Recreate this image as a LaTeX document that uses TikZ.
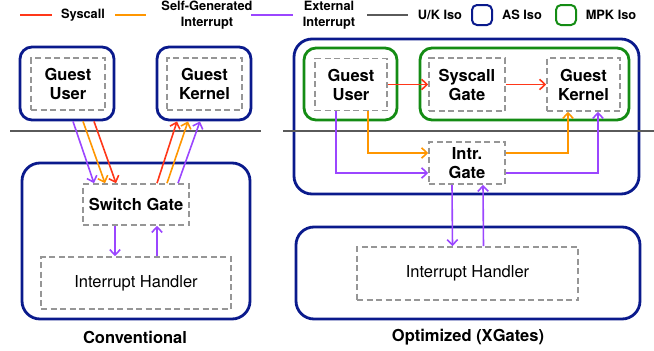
\documentclass[tikz,border=0pt]{standalone}
\usepackage{fontspec}
\setmainfont{TeX Gyre Heros}
\usetikzlibrary{arrows.meta}
\definecolor{asblue}{RGB}{10,26,140}
\definecolor{mpkgreen}{RGB}{20,140,20}
\definecolor{sysred}{RGB}{255,55,25}
\definecolor{selforange}{RGB}{255,150,0}
\definecolor{extpurple}{RGB}{155,70,255}
\definecolor{dashgray}{RGB}{150,150,150}
\definecolor{isogray}{RGB}{90,90,90}
\tikzset{
  x=1pt, y=-1pt,
  asbox/.style={draw=asblue, line width=2.8pt, rounded corners=12pt, inner sep=0pt},
  asbig/.style={draw=asblue, line width=2.8pt, rounded corners=18pt, inner sep=0pt},
  mpkbox/.style={draw=mpkgreen, line width=2.8pt, rounded corners=12pt, inner sep=0pt},
  dbox/.style={draw=dashgray, line width=1.6pt, dash pattern=on 6pt off 3.5pt, inner sep=0pt, align=center,
    font=\fontsize{16.5}{19}\selectfont\bfseries},
  dboxreg/.style={dbox, font=\fontsize{16.5}{19}\selectfont},
  arr/.style={line width=1.6pt, -{Straight Barb[length=5.5pt,width=10.5pt]}},
  sysarr/.style={arr, draw=sysred},
  selfarr/.style={arr, draw=selforange},
  extarr/.style={arr, draw=extpurple},
  isoline/.style={draw=isogray, line width=1.5pt},
  legtext/.style={font=\fontsize{12.8}{15.5}\selectfont\bfseries, align=center, inner sep=0pt},
  legline/.style={line width=2pt},
  caption/.style={font=\fontsize{16.5}{19}\selectfont\bfseries, inner sep=0pt},
}
\begin{document}
\begin{tikzpicture}
\useasboundingbox (0,0) rectangle (654,351);

% legend
\coordinate (r1) at (20,15); \coordinate (r2) at (52,15);
\draw[legline, sysred] (r1) -- (r2);
\node[legtext] (lsys) at (83,15) {Syscall};
\coordinate (o1) at (115,15); \coordinate (o2) at (146,15);
\draw[legline, selforange] (o1) -- (o2);
\node[legtext] (lself) at (207,15) {Self-Generated\\Interrupt};
\coordinate (p1) at (251,15); \coordinate (p2) at (293,15);
\draw[legline, extpurple] (p1) -- (p2);
\node[legtext] (lext) at (329,15) {External\\Interrupt};
\coordinate (g1) at (367,15); \coordinate (g2) at (408,15);
\draw[legline, isogray] (g1) -- (g2);
\node[legtext] (luk) at (440,15) {U/K Iso};
\node[draw=asblue, line width=2pt, rounded corners=5pt, minimum size=20pt, inner sep=0pt] (lasq) at (482,15) {};
\node[legtext] (las) at (522,15) {AS Iso};
\node[draw=mpkgreen, line width=2pt, rounded corners=5pt, minimum size=20pt, inner sep=0pt] (lmpq) at (566,15) {};
\node[legtext] (lmpk) at (611,15) {MPK Iso};

% conventional design
\node[asbox, minimum width=94pt, minimum height=73pt] (cuo) at (67,83.5) {};
\node[dbox, minimum width=74pt, minimum height=52pt] (cu) at (68,84) {Guest\\User};
\node[asbox, minimum width=94pt, minimum height=73pt] (cko) at (204,83.5) {};
\node[dbox, minimum width=75pt, minimum height=52pt] (ck) at (204.5,84) {Guest\\Kernel};
\node[asbig, minimum width=228pt, minimum height=156pt] (cho) at (136,241) {};
\node[dbox, minimum width=106pt, minimum height=41pt] (csg) at (136,204.5) {Switch Gate};
\node[dboxreg, minimum width=190pt, minimum height=52pt] (cih) at (136,283) {Interrupt Handler};
\node[caption] (ccap) at (135,337) {Conventional};

\coordinate (cl1) at (10,131); \coordinate (cl2) at (261,131);
\draw[isoline] (cl1) -- (cl2);

\draw[extarr]  ([xshift=6pt]cuo.south)  -- ([xshift=-42pt]csg.north);
\draw[selfarr] ([xshift=16pt]cuo.south) -- ([xshift=-31pt]csg.north);
\draw[sysarr]  ([xshift=27pt]cuo.south) -- ([xshift=-20pt]csg.north);
\draw[sysarr]  ([xshift=21pt]csg.north) -- ([xshift=-27pt]cko.south);
\draw[selfarr] ([xshift=31pt]csg.north) -- ([xshift=-16pt]cko.south);
\draw[extarr]  ([xshift=42pt]csg.north) -- ([xshift=-4pt]cko.south);
\draw[extarr]  ([xshift=-21pt]csg.south) -- ([xshift=-21pt]cih.north);
\draw[extarr]  ([xshift=21pt]cih.north) -- ([xshift=21pt]csg.south);

% optimized design
\node[asbig, minimum width=345pt, minimum height=155pt] (oas) at (466.5,116.5) {};
\node[mpkbox, minimum width=93pt, minimum height=72pt] (ouo) at (350.5,84) {};
\node[dbox, minimum width=72pt, minimum height=52pt] (ou) at (351,84.5) {Guest\\User};
\node[mpkbox, minimum width=209pt, minimum height=72pt] (oko) at (524.5,84) {};
\node[dbox, minimum width=76pt, minimum height=53pt] (osg) at (467,84.5) {Syscall\\Gate};
\node[dbox, minimum width=73pt, minimum height=53pt] (ok) at (583.5,84.5) {Guest\\Kernel};
\node[dbox, minimum width=76pt, minimum height=42pt] (oig) at (467,163) {Intr.\\Gate};
\node[asbig, minimum width=344pt, minimum height=92pt] (oho) at (468,273) {};
\node[dboxreg, minimum width=221pt, minimum height=53pt] (oih) at (467.5,273.5) {Interrupt Handler};
\node[caption] (ocap) at (468,337) {Optimized (XGates)};

\coordinate (ol1) at (283,131); \coordinate (ol2) at (654,131);
\draw[isoline] (ol1) -- (ol2);

\draw[sysarr] (ou.east) -- (osg.west);
\draw[sysarr] (osg.east) -- (ok.west);
\draw[selfarr] ([xshift=17pt]ou.south) |- ([yshift=10pt]oig.west);
\draw[extarr]  ([xshift=-15pt]ou.south) |- ([yshift=-10pt]oig.west);
\draw[selfarr] ([yshift=10pt]oig.east) -| ([xshift=-15.5pt]ok.south);
\draw[extarr]  ([yshift=-10pt]oig.east) -| ([xshift=14.5pt]ok.south);
\draw[extarr]  ([xshift=-15pt]oig.south) -- ([xshift=-15pt]oih.north);
\draw[extarr]  ([xshift=16pt]oih.north) -- ([xshift=16pt]oig.south);
\end{tikzpicture}
\end{document}
